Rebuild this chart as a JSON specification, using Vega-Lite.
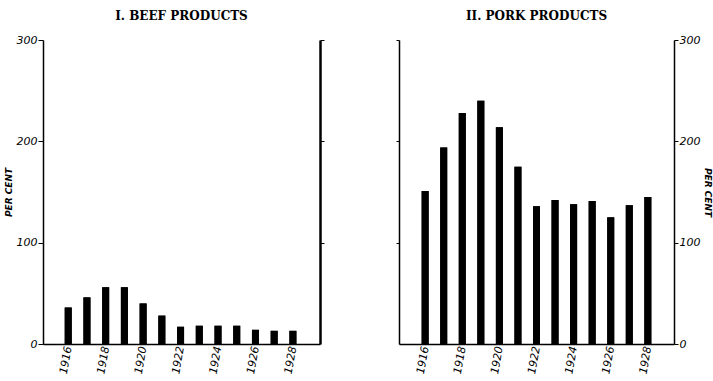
{
  "$schema": "https://vega.github.io/schema/vega-lite/v6.json",
  "background": "white",
  "padding": {"left": 4, "top": 10, "right": 2, "bottom": 0},
  "spacing": 70,
  "config": {
    "view": {"stroke": null},
    "font": "DejaVu Sans",
    "title": {"font": "DejaVu Serif", "fontSize": 12, "fontWeight": "bold", "color": "black", "offset": 11},
    "axis": {
      "grid": false,
      "domainColor": "black",
      "tickColor": "black",
      "labelColor": "black",
      "titleColor": "black",
      "domainWidth": 1.5,
      "labelFont": "DejaVu Sans",
      "labelFontStyle": "italic",
      "labelFontSize": 11,
      "titleFont": "DejaVu Sans",
      "titleFontStyle": "italic",
      "titleFontWeight": "bold",
      "titleFontSize": 9
    }
  },
  "datasets": {
    "beef": [
      {"year": 1916, "value": 36}, {"year": 1917, "value": 46}, {"year": 1918, "value": 56},
      {"year": 1919, "value": 56}, {"year": 1920, "value": 40}, {"year": 1921, "value": 28},
      {"year": 1922, "value": 17}, {"year": 1923, "value": 18}, {"year": 1924, "value": 18},
      {"year": 1925, "value": 18}, {"year": 1926, "value": 14}, {"year": 1927, "value": 13},
      {"year": 1928, "value": 13}
    ],
    "pork": [
      {"year": 1916, "value": 151}, {"year": 1917, "value": 194}, {"year": 1918, "value": 228},
      {"year": 1919, "value": 240}, {"year": 1920, "value": 214}, {"year": 1921, "value": 175},
      {"year": 1922, "value": 136}, {"year": 1923, "value": 142}, {"year": 1924, "value": 138},
      {"year": 1925, "value": 141}, {"year": 1926, "value": 125}, {"year": 1927, "value": 137},
      {"year": 1928, "value": 145}
    ]
  },
  "hconcat": [
    {
      "title": "I. BEEF PRODUCTS",
      "width": 277,
      "height": 304,
      "data": {"name": "beef"},
      "resolve": {"axis": {"y": "independent"}},
      "layer": [
        {
          "mark": {"type": "bar", "color": "black", "size": 7},
          "encoding": {
            "x": {"field": "year", "type": "quantitative",
              "scale": {"domain": [1914.92, 1929.18], "nice": false, "zero": false},
              "axis": {"values": [1916, 1918, 1920, 1922, 1924, 1926, 1928], "format": "d", "labelAngle": -80, "ticks": false, "title": null, "labelPadding": 2}},
            "y": {"field": "value", "type": "quantitative",
              "scale": {"domain": [0, 300], "nice": false},
              "axis": {"orient": "left", "values": [0, 100, 200, 300], "tickSize": 5, "labelPadding": 1, "title": "PER CENT", "titlePadding": 3}}
          }
        },
        {
          "mark": {"type": "bar", "color": "black", "size": 7},
          "encoding": {
            "x": {"field": "year", "type": "quantitative"},
            "y": {"field": "value", "type": "quantitative",
              "axis": {"orient": "right", "values": [100, 200, 300], "tickSize": 4, "labels": false, "title": null, "domainWidth": 2.5}}
          }
        }
      ]
    },
    {
      "title": "II. PORK PRODUCTS",
      "width": 275,
      "height": 304,
      "data": {"name": "pork"},
      "resolve": {"axis": {"y": "independent"}},
      "layer": [
        {
          "mark": {"type": "bar", "color": "black", "size": 7},
          "encoding": {
            "x": {"field": "year", "type": "quantitative",
              "scale": {"domain": [1914.86, 1929.14], "nice": false, "zero": false},
              "axis": {"values": [1916, 1918, 1920, 1922, 1924, 1926, 1928], "format": "d", "labelAngle": -80, "ticks": false, "title": null, "labelPadding": 2}},
            "y": {"field": "value", "type": "quantitative",
              "scale": {"domain": [0, 300], "nice": false},
              "axis": {"orient": "left", "values": [100, 200, 300], "tickSize": 3, "labels": false, "title": null}}
          }
        },
        {
          "mark": {"type": "bar", "color": "black", "size": 7},
          "encoding": {
            "x": {"field": "year", "type": "quantitative"},
            "y": {"field": "value", "type": "quantitative",
              "axis": {"orient": "right", "values": [0, 100, 200, 300], "tickSize": 4, "labelPadding": 1, "title": "PER CENT", "titlePadding": 3}}
          }
        }
      ]
    }
  ]
}
